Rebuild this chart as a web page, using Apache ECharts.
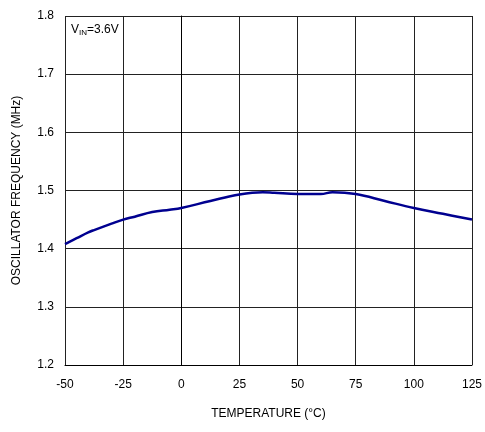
<!DOCTYPE html>
<html lang="en">
<head>
    <meta charset="UTF-8">
    <title>Oscillator frequency vs temperature</title>
    <style>
        html, body { margin: 0; padding: 0; background: #fff; }
        div#container { width: 485px; height: 432px; }
    </style>
</head>
<body>
    <div id="container"></div>
    <script src="https://cdn.jsdelivr.net/npm/echarts@6/dist/echarts.min.js"></script>
    <script>
        // temperature (°C) and frequency (MHz)
        var temps = [-50, -45, -40, -37.5, -30, -25, -20, -12.5, -5, 0, 12.5, 25, 35, 40, 50, 60, 65, 75, 87.5, 100, 112.5, 125];
        var freqs = [1.408, 1.418, 1.428, 1.432, 1.443, 1.450, 1.455, 1.463, 1.467, 1.470, 1.482, 1.493, 1.497, 1.496, 1.494, 1.494, 1.497, 1.494, 1.482, 1.470, 1.460, 1.450];

        var data = [];
        for (var i = 0; i < temps.length; i++) {
            data.push([temps[i], freqs[i]]);
        }

        var font = 'Liberation Sans, Arial, sans-serif';
        var chart = echarts.init(document.getElementById('container'));
        var options = {
            animation: false,
            grid: { left: 65, right: 11, top: 16, bottom: 67 },
            xAxis: {
                type: 'value',
                min: -50,
                max: 125,
                interval: 25,
                name: 'TEMPERATURE (°C)',
                nameLocation: 'middle',
                nameGap: 43,
                nameTextStyle: { color: '#000', fontSize: 12, fontFamily: font },
                axisLine: { lineStyle: { color: '#000', width: 1 } },
                axisTick: { show: false },
                axisLabel: { color: '#000', fontSize: 12, fontFamily: font, margin: 14 },
                splitLine: { show: true, lineStyle: { color: '#222', width: 1 } }
            },
            yAxis: {
                type: 'value',
                min: 1.2,
                max: 1.8,
                interval: 0.1,
                name: 'OSCILLATOR FREQUENCY (MHz)',
                nameLocation: 'middle',
                nameGap: 42,
                nameTextStyle: { color: '#000', fontSize: 12, fontFamily: font },
                axisLine: { show: true, lineStyle: { color: '#000', width: 1 } },
                axisTick: { show: false },
                axisLabel: {
                    color: '#000', fontSize: 12, fontFamily: font, margin: 11,
                    formatter: function (v) { return v.toFixed(1); }
                },
                splitLine: { show: true, lineStyle: { color: '#222', width: 1 } }
            },
            graphic: [{
                type: 'text',
                left: 71,
                top: 24,
                style: {
                    text: '{v|V}{s|IN}{v|=3.6V}',
                    rich: {
                        v: { fontSize: 12, fontFamily: font, fill: '#000' },
                        s: { fontSize: 8, fontFamily: font, fill: '#000', verticalAlign: 'bottom', padding: [6, 0, 0, 0] }
                    }
                }
            }],
            series: [{
                type: 'line',
                data: data,
                smooth: 0.4,
                showSymbol: false,
                lineStyle: { color: '#000090', width: 2.5 }
            }]
        };
        chart.setOption(options);
    </script>
</body>
</html>
